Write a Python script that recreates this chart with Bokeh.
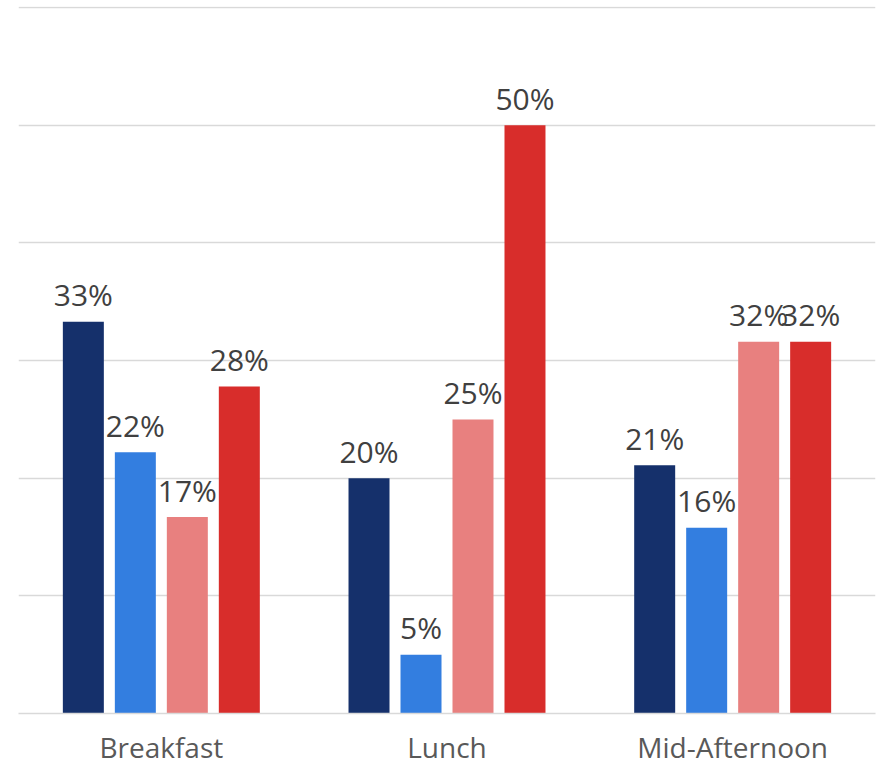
from bokeh.plotting import figure
from bokeh.models import ColumnDataSource, FactorRange, Range1d, FixedTicker
from bokeh.transform import dodge
from bokeh.embed import file_html
from bokeh.resources import INLINE
from bokeh.core.properties import value

categories = ["Breakfast", "Lunch", "Mid-Afternoon"]
series_names = ["S1", "S2", "S3", "S4"]
s1 = [33.3, 20.0, 21.1]
s2 = [22.2, 5.0, 15.8]
s3 = [16.7, 25.0, 31.6]
s4 = [27.8, 50.0, 31.6]
series_values = [s1, s2, s3, s4]
colors = ["#15306B", "#337EE0", "#E8807F", "#D82D2B"]
y_ticks = [0, 10, 20, 30, 40, 50, 60]

p = figure(x_range=FactorRange(factors=categories, range_padding=0),
           y_range=Range1d(0, 60.1),
           width=877, height=768, output_backend="svg", toolbar_location=None,
           min_border_left=18, min_border_right=2, min_border_top=6, min_border_bottom=55)
p.outline_line_color = None
p.background_fill_color = "white"

offsets = [-0.273, -0.091, 0.091, 0.273]
font = "Open Sans"
for vals, col, off in zip(series_values, colors, offsets):
    src = ColumnDataSource(dict(cat=categories, val=vals,
                                lab=["%d%%" % round(v) for v in vals]))
    p.vbar(x=dodge("cat", off, range=p.x_range), top="val", width=0.1435,
           source=src, fill_color=col, line_color=None)
    p.text(x=dodge("cat", off, range=p.x_range), y="val", text="lab", source=src,
           text_align="center", text_baseline="alphabetic", y_offset=-27,
           text_font=value(font), text_font_size="30px", text_color="#404040")

p.yaxis.visible = False
p.ygrid.ticker = FixedTicker(ticks=y_ticks)
p.ygrid.grid_line_color = "#d9d9d9"
p.ygrid.grid_line_width = 1.5
p.xgrid.grid_line_color = None

p.xaxis.axis_line_color = "#d9d9d9"
p.xaxis.axis_line_width = 1.5
p.xaxis.major_tick_line_color = None
p.xaxis.minor_tick_line_color = None
p.xaxis.major_tick_in = 0
p.xaxis.major_tick_out = 0
p.xaxis.major_label_standoff = 14
p.xaxis.major_label_text_font = font
p.xaxis.major_label_text_font_size = "28px"
p.xaxis.major_label_text_color = "#595959"

open("out.html", "w").write(file_html(p, INLINE))
